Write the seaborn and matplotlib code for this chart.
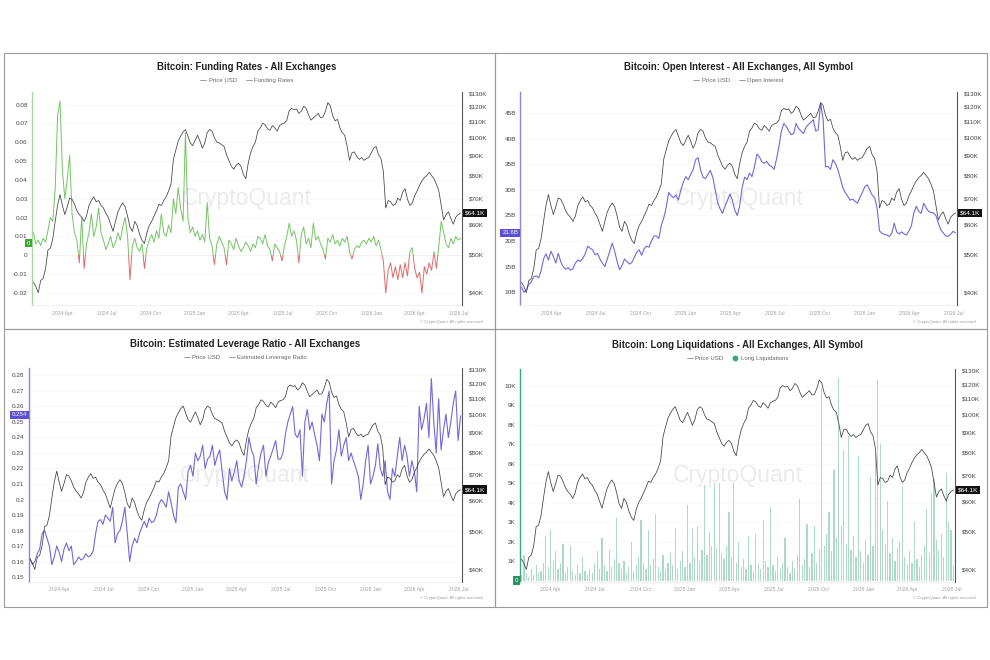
import numpy as np
import pandas as pd
import matplotlib
matplotlib.use('Agg')
import matplotlib.pyplot as plt
import matplotlib.transforms as mtransforms
from matplotlib.patches import Rectangle
from matplotlib.lines import Line2D
from matplotlib.ticker import FixedLocator, NullLocator, FuncFormatter
import seaborn as sns

# 5-day sampling of the series, Feb 2024 -> Jul 2026
dates = pd.date_range('2024-02-01', periods=178, freq='5D')
day = np.asarray((dates - dates[0]).days)

month_starts = pd.to_datetime(['2024-04-01', '2024-07-01', '2024-10-01', '2025-01-01', '2025-04-01',
                               '2025-07-01', '2025-10-01', '2026-01-01', '2026-04-01', '2026-07-01'])
tick_days = np.asarray((month_starts - dates[0]).days)
tick_labels = ['2024 Apr', '2024 Jul', '2024 Oct', '2025 Jan', '2025 Apr',
               '2025 Jul', '2025 Oct', '2026 Jan', '2026 Apr', '2026 Jul']

price_ticks_k = [40, 50, 60, 70, 80, 90, 100, 110, 120, 130]

# BTC price, thousands of USD
price_k = [42.5, 41.5, 40.0, 43.0, 43.5, 46.0, 51.5, 52.0, 55.0, 61.0,
           67.0, 71.5, 67.0, 63.5, 66.5, 70.0, 69.5, 67.5, 65.0, 63.5,
           62.5, 61.0, 63.0, 67.0, 69.0, 70.5, 68.5, 69.0, 67.0, 66.0,
           64.0, 62.5, 60.0, 57.5, 61.0, 64.5, 66.5, 68.0, 66.5, 63.0,
           59.0, 57.5, 61.0, 59.5, 56.5, 54.5, 53.5, 57.0, 59.5, 61.0,
           63.0, 65.0, 67.5, 67.0, 69.0, 70.5, 73.0, 76.0, 88.0, 93.0,
           98.0, 101.0, 103.5, 105.0, 101.0, 97.0, 95.5, 98.5, 101.5, 98.0,
           94.0, 97.0, 103.0, 105.0, 104.0, 100.0, 97.5, 97.0, 96.0, 95.0,
           90.5, 87.5, 84.5, 83.0, 85.0, 86.0, 84.5, 80.5, 78.5, 86.0,
           91.5, 95.0, 97.5, 104.0, 106.0, 109.0, 108.0, 105.5, 104.5, 107.5,
           106.0, 104.0, 107.5, 108.5, 109.0, 111.0, 117.5, 119.0, 118.0, 118.5,
           115.5, 117.0, 120.5, 119.0, 114.5, 111.0, 112.5, 114.0, 115.5, 112.5,
           113.0, 117.0, 123.0, 121.0, 114.0, 110.5, 111.5, 106.0, 103.0, 101.5,
           95.0, 87.5, 91.5, 92.0, 89.5, 88.0, 89.0, 87.5, 88.5, 89.0,
           91.5, 94.0, 95.0, 90.5, 88.5, 82.0, 66.0, 69.0, 68.5, 67.0,
           67.5, 70.0, 69.0, 72.5, 74.0, 69.5, 67.0, 68.0, 71.0, 73.0,
           75.5, 77.5, 79.0, 80.0, 81.5, 80.0, 78.5, 76.0, 73.0, 67.0,
           61.5, 63.5, 64.5, 62.0, 60.0, 62.5, 63.5, 64.1]

funding = [0.012, 0.006, 0.008, 0.005, 0.009, 0.007, 0.013, 0.02, 0.018, 0.035,
           0.074, 0.082, 0.045, 0.03, 0.04, 0.053, 0.022, 0.012, 0.008, -0.004,
           0.02, -0.007, 0.006, 0.012, 0.022, 0.01, 0.015, 0.025, 0.012, 0.008,
           0.003, 0.006, 0.01, 0.004, 0.007, 0.012, 0.008, 0.015, 0.02, 0.01,
           -0.013, 0.005, 0.009, 0.004, 0.002, 0.006, -0.007, 0.004, 0.008, 0.011,
           0.007, 0.013, 0.009, 0.022, 0.012, 0.01, 0.016, 0.012, 0.03, 0.022,
           0.036, 0.025, 0.018, 0.065, 0.02, 0.012, 0.015, 0.01, 0.013, 0.008,
           0.011, 0.007, 0.028, 0.009, 0.005, -0.005, 0.006, 0.01, 0.007, 0.004,
           -0.005, 0.008, 0.006, 0.003, 0.009, 0.005, 0.002, 0.004, 0.007, 0.005,
           0.002, 0.006, 0.004, 0.01, 0.009, 0.006, 0.011, 0.005, 0.003, -0.003,
           0.006, 0.004, 0.002, -0.003, 0.005, 0.01, 0.017, 0.01, 0.013, 0.008,
           -0.004, 0.011, 0.015, 0.006, 0.009, 0.004, 0.017, 0.008, 0.01, 0.006,
           0.003, -0.002, 0.009, 0.007, 0.011, 0.006, 0.008, 0.005, 0.009, 0.007,
           0.01, 0.002, -0.002, 0.003, 0.005, 0.004, 0.007, 0.008, 0.006, 0.009,
           0.007, 0.01, 0.005, 0.008, 0.003, -0.003, -0.02, -0.008, -0.004, -0.012,
           -0.006, -0.013, -0.005, -0.012, -0.004, -0.011, 0.002, 0.004, -0.007, -0.012,
           -0.009, -0.02, -0.006, -0.01, -0.004, -0.008, 0.002, -0.007, 0.005, 0.018,
           0.012, 0.006, 0.004, 0.009, 0.006, 0.01, 0.008, 0.009]

# open interest, billions
open_interest_b = [11.0, 10.0, 10.5, 11.5, 12.0, 13.0, 13.2, 12.8, 14.2, 16.5,
                   17.5, 16.3, 18.0, 17.0, 15.7, 17.6, 16.0, 15.0, 14.5, 14.8,
                   14.3, 14.6, 15.7, 16.3, 16.0, 16.6, 17.5, 19.0, 18.6, 18.3,
                   17.3, 17.6, 16.5, 15.7, 15.0, 16.5, 18.0, 19.6, 18.0, 16.0,
                   14.4, 15.2, 16.5, 16.0, 15.5, 15.8, 16.8, 17.8, 18.3, 17.2,
                   18.5, 19.0, 18.8, 20.0, 21.0, 21.0, 20.5, 23.0, 24.5, 26.5,
                   29.5, 28.9, 28.5, 29.0, 28.0, 30.0, 31.5, 32.6, 32.0, 33.0,
                   34.0, 35.9, 36.3, 34.0, 32.5, 32.2, 33.0, 33.8, 32.5, 30.0,
                   27.5, 26.3, 25.4, 26.8, 28.0, 29.2, 28.0, 26.0, 25.0, 27.0,
                   30.5, 32.5, 32.0, 33.3, 32.6, 34.5, 37.0, 36.5, 35.5, 35.2,
                   35.6, 34.8, 34.6, 34.0, 36.0, 38.5, 41.5, 43.0, 42.4, 41.5,
                   40.8, 41.0, 43.0, 42.0, 41.5, 41.0, 42.2, 42.8, 43.2, 43.7,
                   41.5, 41.8, 47.0, 43.7, 34.5, 34.6, 34.0, 35.9, 35.2, 34.0,
                   32.3, 30.5, 29.5, 28.8, 28.0, 28.2, 27.8, 27.4, 28.5, 29.5,
                   30.6, 31.0, 30.0, 29.0, 28.5, 26.5, 22.0, 21.5, 21.3, 21.2,
                   20.9, 21.5, 23.5, 21.8, 21.4, 21.8, 21.4, 21.2, 22.0, 23.0,
                   25.5, 26.8, 25.8, 25.4, 27.4, 26.5, 25.8, 25.6, 25.5, 25.0,
                   23.5, 22.2, 21.6, 21.0, 20.9, 21.3, 21.9, 21.6]

leverage = [0.162, 0.158, 0.16, 0.165, 0.168, 0.178, 0.18, 0.175, 0.17, 0.158,
            0.163, 0.17, 0.166, 0.16, 0.168, 0.172, 0.167, 0.17, 0.158, 0.16,
            0.163, 0.161, 0.162, 0.165, 0.163, 0.164, 0.167, 0.178, 0.186, 0.187,
            0.184, 0.19, 0.188, 0.186, 0.195, 0.172, 0.178, 0.18, 0.186, 0.195,
            0.178, 0.16, 0.17, 0.175, 0.172, 0.178, 0.182, 0.186, 0.182, 0.188,
            0.185, 0.186, 0.19, 0.197, 0.2, 0.198, 0.195, 0.205, 0.198, 0.19,
            0.185, 0.208, 0.21, 0.205, 0.2, 0.218, 0.222, 0.215, 0.23, 0.225,
            0.228, 0.235, 0.22, 0.226, 0.228, 0.235, 0.222, 0.228, 0.232, 0.218,
            0.205, 0.2, 0.22, 0.212, 0.218, 0.225, 0.212, 0.208, 0.215, 0.225,
            0.24, 0.232, 0.228, 0.21, 0.222, 0.23, 0.235, 0.215, 0.224, 0.228,
            0.233, 0.238, 0.226, 0.226, 0.23, 0.242, 0.25, 0.255, 0.26, 0.242,
            0.24, 0.245, 0.215, 0.25, 0.258, 0.245, 0.25, 0.242, 0.235, 0.225,
            0.255, 0.25, 0.262, 0.27, 0.21, 0.225, 0.232, 0.245, 0.228, 0.235,
            0.24, 0.225, 0.23, 0.225, 0.22, 0.215, 0.2, 0.21, 0.225, 0.235,
            0.21, 0.215, 0.222, 0.236, 0.22, 0.215, 0.225, 0.205, 0.2, 0.22,
            0.215, 0.228, 0.24, 0.225, 0.235, 0.228, 0.215, 0.225, 0.218, 0.205,
            0.26, 0.245, 0.252, 0.262, 0.24, 0.278, 0.25, 0.23, 0.265, 0.232,
            0.245, 0.255, 0.24, 0.25, 0.262, 0.27, 0.238, 0.254]

# long liquidations, thousands
long_liq_k = [0.3, 1.3, 0.4, 0.2, 0.6, 0.3, 0.8, 0.4, 0.5, 0.9,
              2.3, 0.7, 2.6, 1.0, 1.5, 0.6, 0.9, 1.9, 0.4, 0.7,
              1.8, 0.5, 0.3, 0.8, 0.4, 1.2, 0.5, 0.3, 0.6, 0.4,
              0.9, 1.5, 0.6, 2.2, 0.8, 0.5, 1.6, 0.7, 1.1, 3.2,
              0.9, 0.6, 1.0, 0.4, 0.7, 2.0, 0.5, 0.8, 1.2, 3.1,
              0.9, 0.6, 2.6, 0.8, 1.1, 3.4, 0.7, 0.5, 1.3, 0.6,
              0.9, 1.4, 0.8, 2.7, 0.6, 1.0, 1.5, 0.7, 3.9, 0.9,
              2.7, 1.2, 2.8, 1.0, 1.6, 4.9, 1.3, 2.5, 1.8, 5.0,
              1.7, 5.0, 1.4, 1.1, 1.8, 3.5, 1.2, 5.0, 0.9, 2.0,
              0.7, 1.1, 0.6, 2.3, 0.8, 0.5, 2.4, 0.9, 0.6, 3.1,
              1.0, 0.7, 3.8, 0.8, 0.5, 1.2, 0.6, 0.9, 2.2, 0.7,
              0.4, 1.0, 0.6, 1.3, 4.2, 0.8, 1.1, 2.9, 0.7, 1.4,
              2.8, 0.9, 1.6, 9.9, 1.8, 2.4, 3.5, 1.5, 5.7, 2.2,
              10.4, 2.8, 6.7, 1.9, 7.4, 1.6, 2.3, 1.2, 6.4, 1.5,
              0.9, 2.1, 1.3, 5.3, 1.8, 6.5, 10.3, 7.0, 2.6, 1.9,
              4.1, 1.4, 2.2, 1.0, 1.7, 2.0, 4.8, 1.2, 0.8, 1.5,
              0.9, 3.0, 1.1, 0.7, 1.3, 1.8, 3.7, 1.4, 4.5, 5.2,
              2.1, 1.6, 2.4, 1.2, 5.5, 3.0, 2.6, 0.8]

price_usd = np.array(price_k) * 1000

sns.set_style('white')
plt.rcParams['font.family'] = ['Liberation Sans Narrow', 'Liberation Sans', 'DejaVu Sans']

fig = plt.figure(figsize=(9.9, 6.6), dpi=100)
fig.patch.set_facecolor('white')

W, H = 990.0, 660.0


def frac(x0, y_top, x1, y_bot):
    return [x0 / W, 1 - y_bot / H, (x1 - x0) / W, (y_bot - y_top) / H]


def blended(ax):
    return mtransforms.blended_transform_factory(ax.transAxes, ax.transData)


def base_axes(rect, spine_color):
    ax = fig.add_axes(rect)
    for s in ['top', 'right']:
        ax.spines[s].set_visible(False)
    ax.spines['left'].set_color(spine_color)
    ax.spines['left'].set_linewidth(1.0)
    ax.spines['bottom'].set_color('#ececec')
    ax.spines['bottom'].set_linewidth(0.6)
    return ax


def add_price(ax):
    ax2 = ax.twinx()
    sns.lineplot(x=day, y=price_usd, ax=ax2, color='#404040', linewidth=0.55)
    ax2.set_yscale('log')
    ax2.set_ylim(37200, 131300)
    ax2.yaxis.set_major_locator(FixedLocator([t * 1000 for t in price_ticks_k]))
    ax2.yaxis.set_minor_locator(NullLocator())
    ax2.yaxis.set_major_formatter(FuncFormatter(lambda v, p: f'${v / 1000:.0f}K'))
    ax2.tick_params(axis='y', which='both', length=0, labelsize=4.6, labelcolor='#444444', pad=5)
    ax2.set_ylabel('')
    for s in ['top', 'left', 'bottom']:
        ax2.spines[s].set_visible(False)
    ax2.spines['right'].set_color('#555555')
    ax2.spines['right'].set_linewidth(0.8)
    ax2.text(1.006, price_usd[-1], '$64.1K', transform=blended(ax2), ha='left', va='center',
             fontsize=4.6, color='white',
             bbox=dict(boxstyle='square,pad=0.3', fc='#111111', ec='none'))
    return ax2


def decorate(ax, title, handle, label, yticks, ylabels, ylim, badge, badge_val, badge_color):
    ax.set_ylim(*ylim)
    ax.set_yticks(yticks)
    ax.set_yticklabels(ylabels)
    ax.set_xticks(tick_days)
    ax.set_xticklabels(tick_labels)
    ax.set_xlim(-3, 888)
    ax.set_xlabel('')
    ax.set_ylabel('')
    ax.tick_params(axis='y', length=0, labelsize=4.6, labelcolor='#444444', pad=3)
    ax.tick_params(axis='x', length=0, labelsize=3.7, labelcolor='#a0a0a0', pad=4)
    ax.grid(axis='y', color='#f7f7f7', linewidth=0.5)
    ax.set_axisbelow(True)
    ax.text(0.5, 0.5, 'CryptoQuant', transform=ax.transAxes, ha='center', va='center',
            fontsize=16.5, color='#ebebeb', zorder=0)
    ax.text(0.5, 1.114, title, transform=ax.transAxes, ha='center', va='center',
            fontsize=6.9, fontweight='bold', color='#222222')
    handles = [Line2D([], [], color='#8a8a8a', lw=0.6), handle]
    ax.legend(handles, ['Price USD', label], loc='center', bbox_to_anchor=(0.5, 1.051), ncol=2,
              frameon=False, fontsize=4.3, handlelength=1.0, handletextpad=0.4,
              columnspacing=1.5, labelcolor='#666666')
    ax.text(-0.004, badge_val, badge, transform=blended(ax), ha='right', va='center',
            fontsize=4.4, color='white',
            bbox=dict(boxstyle='square,pad=0.3', fc=badge_color, ec='none'))


green = '#74c463'
red = '#e06a6a'
purple = '#7468d8'
teal = '#3aa87a'

# Funding rates
ax = base_axes(frac(32, 91.7, 462, 305), '#a6d99c')
ax.axhline(0, color='#f2dede', linewidth=0.6, zorder=0)
sns.lineplot(x=day, y=funding, ax=ax, color=green, linewidth=0.7)
sns.lineplot(x=day, y=funding, ax=ax, color=red, linewidth=0.7)
ax.lines[-2].set_clip_path(Rectangle((-50, 0), 1000, 1, transform=ax.transData))
ax.lines[-1].set_clip_path(Rectangle((-50, -1), 1000, 1, transform=ax.transData))
fr_ticks = [-0.02, -0.01, 0, 0.01, 0.02, 0.03, 0.04, 0.05, 0.06, 0.07, 0.08]
decorate(ax, 'Bitcoin: Funding Rates - All Exchanges', Line2D([], [], color='#8a8a8a', lw=0.6),
         'Funding Rates', fr_ticks, [f'{v:g}' for v in fr_ticks], (-0.0264, 0.0868),
         '0', 0.0065, '#3fa535')
add_price(ax)

# Open interest
ax = base_axes(frac(520, 91.7, 957, 305), '#8d84e0')
sns.lineplot(x=day, y=open_interest_b, ax=ax, color=purple, linewidth=0.8)
oi_ticks = [10, 15, 20, 25, 30, 35, 40, 45]
decorate(ax, 'Bitcoin: Open Interest - All Exchanges, All Symbol', Line2D([], [], color='#8a8a8a', lw=0.6),
         'Open Interest', oi_ticks, [f'{v}B' for v in oi_ticks], (7.5, 49.2),
         '21.6B', 21.6, '#5b4fd6')
add_price(ax)

# Estimated leverage ratio
ax = base_axes(frac(28.5, 368.3, 462, 581.7), '#8d84e0')
sns.lineplot(x=day, y=leverage, ax=ax, color=purple, linewidth=0.8)
lr_ticks = [0.15, 0.16, 0.17, 0.18, 0.19, 0.2, 0.21, 0.22, 0.23, 0.24, 0.25, 0.26, 0.27, 0.28]
decorate(ax, 'Bitcoin: Estimated Leverage Ratio - All Exchanges', Line2D([], [], color='#8a8a8a', lw=0.6),
         'Estimated Leverage Ratio', lr_ticks, [f'{v:g}' for v in lr_ticks], (0.147, 0.2846),
         '0.254', 0.2545, '#5b4fd6')
add_price(ax)

# Long liquidations
ax = base_axes(frac(520, 369, 955, 581.7), teal)
sns.barplot(x=day, y=long_liq_k, native_scale=True, errorbar=None, color=teal, saturation=1,
            width=0.5, alpha=0.42, linewidth=0, ax=ax)
ll_ticks = [1, 2, 3, 4, 5, 6, 7, 8, 9, 10]
decorate(ax, 'Bitcoin: Long Liquidations - All Exchanges, All Symbol',
         Line2D([], [], marker='o', linestyle='', color=teal, markersize=3.2),
         'Long Liquidations', ll_ticks, [f'{v}K' for v in ll_ticks], (-0.05, 10.86),
         '0', 0, '#2e9163')
add_price(ax)

for x_right, y in [(483, 321.7), (975.7, 321.7), (483, 597.7), (975.7, 597.7)]:
    fig.text(x_right / W, 1 - y / H, '\u00a9 CryptoQuant. All rights reserved', ha='right', va='center',
             fontsize=3, color='#999999')

# panel frames
for x0, y0, x1, y1 in [(3.5, 52.5, 495, 329), (495, 52.5, 987, 329),
                       (3.5, 329, 495, 607), (495, 329, 987, 607)]:
    fig.add_artist(Rectangle((x0 / W, 1 - y1 / H), (x1 - x0) / W, (y1 - y0) / H,
                             transform=fig.transFigure, fill=False, edgecolor='#9a9a9a', linewidth=0.8))

fig.savefig('out.png', dpi=100, facecolor='white')
